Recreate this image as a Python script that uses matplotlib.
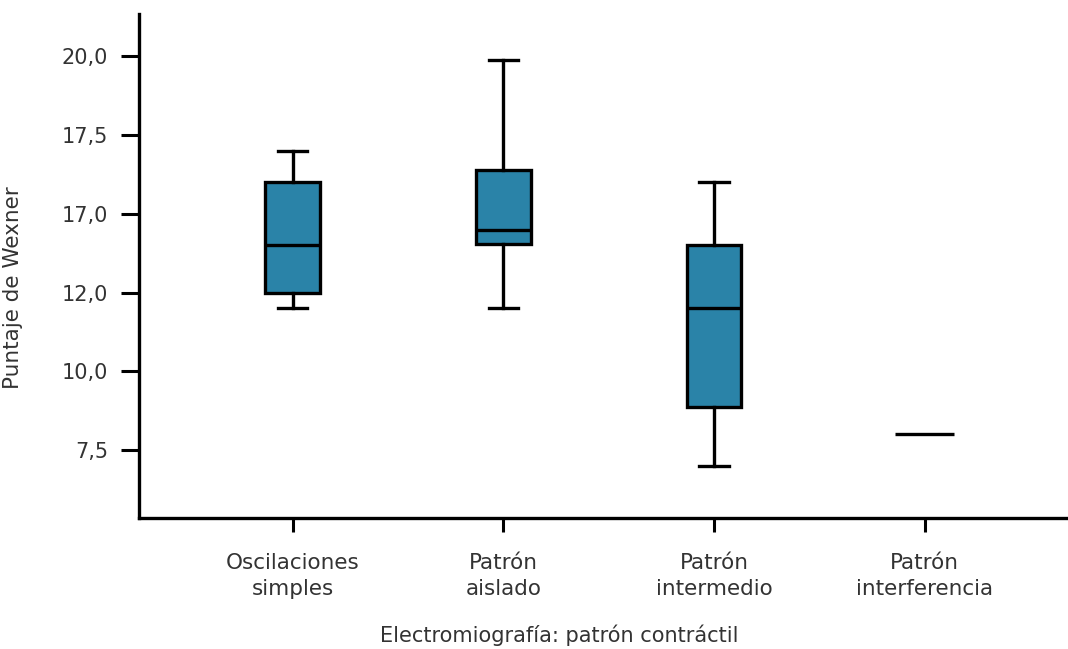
import matplotlib
matplotlib.use("Agg")
import matplotlib.pyplot as plt

categorias = ["Oscilaciones\nsimples", "Patrón\naislado", "Patrón\nintermedio", "Patrón\ninterferencia"]
bigote_inf = [12.0, 12.0, 7.0, 8.0]
q1 = [12.5, 14.05, 8.85, 8.0]
mediana = [14.0, 14.5, 12.0, 8.0]
q3 = [16.0, 16.4, 14.0, 8.0]
bigote_sup = [17.0, 19.9, 16.0, 8.0]

yticks = [7.5, 10.0, 12.5, 15.0, 17.5, 20.0]
ytick_labels = ["7,5", "10,0", "12,0", "17,0", "17,5", "20,0"]

stats = []
for i in range(len(categorias)):
    stats.append({"whislo": bigote_inf[i], "q1": q1[i], "med": mediana[i],
                  "q3": q3[i], "whishi": bigote_sup[i], "fliers": []})

fig = plt.figure(figsize=(10.68, 6.49), dpi=100)
ax = fig.add_axes([0.130, 0.202, 0.870, 0.776])

lw = 2.4
azul = "#2a83a8"
pos = [1, 2, 3, 4]
# el último grupo no tiene dispersión: se dibuja solo la mediana
ax.bxp(stats[:3], positions=pos[:3], widths=0.26, patch_artist=True,
       showfliers=False, capwidths=0.14,
       boxprops=dict(facecolor=azul, edgecolor="black", linewidth=lw),
       medianprops=dict(color="black", linewidth=lw),
       whiskerprops=dict(color="black", linewidth=lw),
       capprops=dict(color="black", linewidth=lw))
ax.hlines(mediana[3], pos[3] - 0.14, pos[3] + 0.14, color="black", linewidth=lw)

ax.set_xlim(0.27, 4.68)
ax.set_ylim(5.34, 21.34)
ax.set_xticks(pos)
ax.set_xticklabels(categorias, fontsize=15.5, linespacing=1.4)
ax.set_yticks(yticks)
ax.set_yticklabels(ytick_labels, fontsize=15)

for s in ["top", "right"]:
    ax.spines[s].set_visible(False)
for s in ["left", "bottom"]:
    ax.spines[s].set_linewidth(2.4)

ax.tick_params(axis="y", length=13, width=2.2, pad=9, labelcolor="#333333")
ax.tick_params(axis="x", length=10, width=2.2, pad=15, labelcolor="#333333")

ax.set_xlabel("Electromiografía: patrón contráctil", fontsize=15, color="#333333")
ax.xaxis.set_label_coords(0.453, -0.212)
ax.set_ylabel("Puntaje de Wexner", fontsize=15.5, color="#333333")
ax.yaxis.set_label_coords(-0.125, 0.458)

fig.savefig("out.png", dpi=100)
